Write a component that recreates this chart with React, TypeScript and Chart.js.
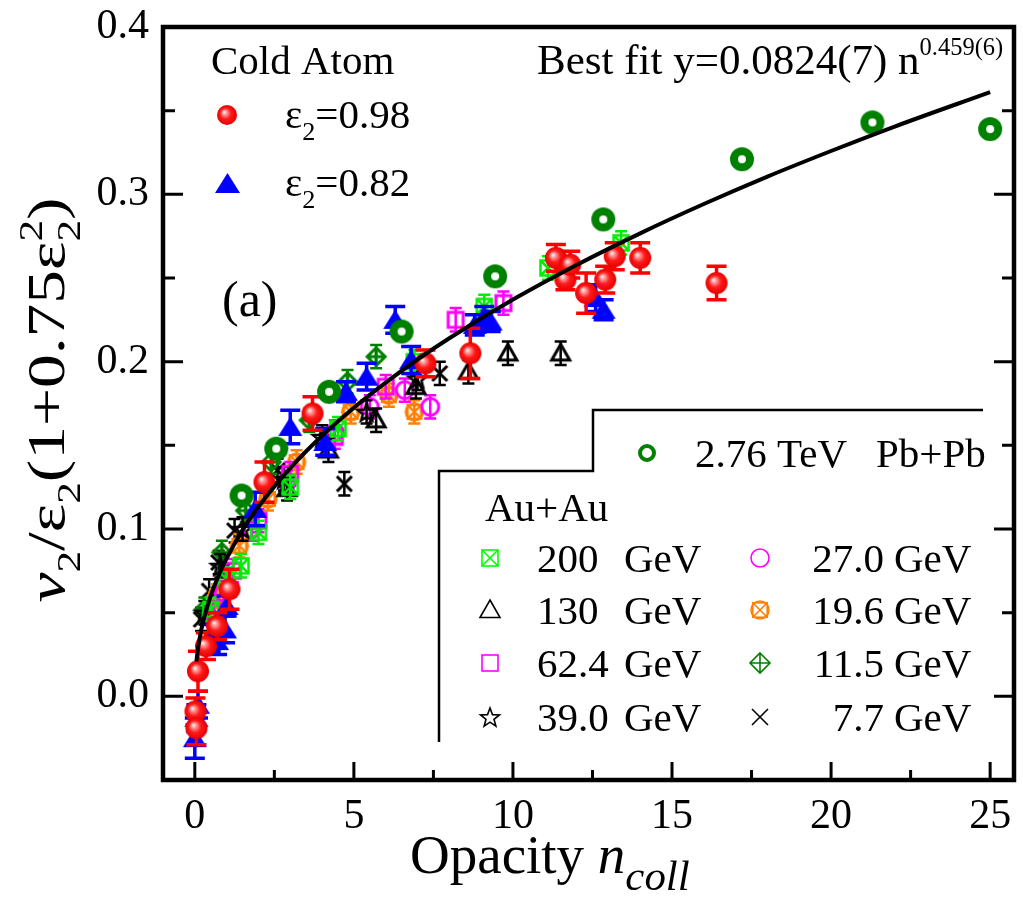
import React, { useEffect, useRef } from 'react';
import { Chart, registerables } from 'chart.js';

Chart.register(...registerables);

const SERIF = '"Liberation Serif", "Times New Roman", serif';

// ---- axes ----
const X_MIN = -1;
const X_MAX = 25.75;
const X_STEP = 5;
const X_MINOR = 2.5;
const Y_MIN = -0.05;
const Y_MAX = 0.4;
const Y_STEP = 0.1;
const Y_MINOR = 0.05;

// ---- best fit curve y = 0.0824 n^0.459 ----
const FIT_X = [0.05, 0.1, 0.2, 0.3, 0.5, 0.75, 1, 1.5, 2, 3, 4, 5, 6, 7, 8, 10, 12, 14, 16, 18, 20, 22, 25];
const FIT_Y = [0.0208, 0.0286, 0.0394, 0.0474, 0.06, 0.0722, 0.0824, 0.0993, 0.1133, 0.1364, 0.1557, 0.1725, 0.1875, 0.2013, 0.214, 0.2371, 0.2578, 0.2767, 0.2942, 0.3106, 0.3259, 0.3405, 0.3611];

// ---- Cold atom eps2 = 0.98 (red spheres) ----
const RED_X = [0.02, 0.05, 0.1, 0.35, 0.7, 1.09, 2.19, 3.7, 7.25, 8.66, 11.35, 11.65, 11.8, 12.3, 12.9, 13.2, 14.0, 16.4];
const RED_Y = [-0.009, -0.019, 0.015, 0.03, 0.042, 0.064, 0.128, 0.169, 0.199, 0.205, 0.262, 0.249, 0.258, 0.241, 0.249, 0.263, 0.262, 0.247];
const RED_ERR = [0.008, 0.01, 0.012, 0.008, 0.008, 0.012, 0.012, 0.01, 0.008, 0.015, 0.008, 0.006, 0.008, 0.012, 0.008, 0.008, 0.009, 0.01];

// ---- Cold atom eps2 = 0.82 (blue triangles) ----
const BLUE_X = [0.0, 0.05, 0.1, 0.5, 0.7, 0.95, 1.0, 1.9, 3.0, 4.1, 4.75, 5.4, 6.3, 6.8, 8.8, 9.1, 9.3, 12.6, 12.85];
const BLUE_Y = [-0.025, -0.013, -0.005, 0.035, 0.033, 0.04, 0.054, 0.112, 0.161, 0.152, 0.182, 0.191, 0.225, 0.201, 0.222, 0.227, 0.224, 0.238, 0.231];
const BLUE_ERR = [0.012, 0.008, 0.008, 0.008, 0.008, 0.008, 0.006, 0.01, 0.01, 0.008, 0.006, 0.008, 0.008, 0.008, 0.006, 0.006, 0.006, 0.008, 0.006];

// ---- 2.76 TeV Pb+Pb ----
const PB_X = [1.47, 2.56, 4.22, 6.5, 9.44, 12.84, 17.2, 21.3, 25.0];
const PB_Y = [0.12, 0.148, 0.182, 0.218, 0.251, 0.285, 0.321, 0.343, 0.339];
const PB_ERR = [0.004, 0.004, 0.004, 0.004, 0.004, 0.004, 0.004, 0.004, 0.004];

// ---- Au+Au ----
const AU200_X = [0.5, 1.0, 1.45, 2.0, 3.0, 4.5, 6.9, 9.1, 11.1, 13.4];
const AU200_Y = [0.052, 0.07, 0.078, 0.098, 0.125, 0.16, 0.2, 0.233, 0.256, 0.271];
const AU130_X = [2.9, 4.2, 5.7, 6.95, 8.6, 9.84, 11.5];
const AU130_Y = [0.124, 0.147, 0.165, 0.185, 0.194, 0.205, 0.205];
const AU62_X = [0.6, 1.2, 2.0, 3.0, 4.4, 6.0, 8.2, 9.7];
const AU62_Y = [0.05, 0.075, 0.105, 0.133, 0.155, 0.185, 0.225, 0.235];
const AU39_X = [0.3, 0.8, 1.5, 2.8, 4.0, 5.4, 7.0];
const AU39_Y = [0.05, 0.078, 0.1, 0.13, 0.155, 0.17, 0.19];
const AU27_X = [0.9, 1.8, 2.9, 4.4, 5.5, 6.6, 7.4];
const AU27_Y = [0.062, 0.1, 0.128, 0.158, 0.173, 0.183, 0.173];
const AU19_X = [0.7, 1.4, 2.3, 3.2, 4.9, 6.1, 6.9];
const AU19_Y = [0.06, 0.09, 0.118, 0.14, 0.17, 0.18, 0.17];
const AU11_X = [0.3, 0.85, 1.6, 2.4, 3.6, 4.8, 5.7];
const AU11_Y = [0.052, 0.086, 0.111, 0.14, 0.165, 0.188, 0.203];
const AU7_X = [0.2, 0.45, 0.75, 1.25, 2.6, 4.7, 7.7];
const AU7_Y = [0.046, 0.063, 0.08, 0.099, 0.135, 0.127, 0.193];
const AU_ERR = 0.007;

// ---- legend labels ----
const LEGEND_COLD_TITLE = 'Cold Atom';
const LEGEND_COLD = ['0.98', '0.82'];
const LEGEND_PB = ['2.76 TeV', 'Pb+Pb'];
const LEGEND_AU_TITLE = 'Au+Au';
const LEGEND_AU_LEFT = ['200', '130', '62.4', '39.0'];
const LEGEND_AU_RIGHT = ['27.0', '19.6', '11.5', '7.7'];

const COLORS = {
  red: '#ff0000',
  blue: '#0000ff',
  pb: '#008000',
  au200: '#00ee00',
  au130: '#000000',
  au62: '#ff00ff',
  au39: '#000000',
  au27: '#ff00ff',
  au19: '#ff8000',
  au11: '#008000',
  au7: '#000000',
};

function xy(xs: number[], ys: number[]) {
  return xs.map((x, i) => ({ x, y: ys[i] }));
}

function makeSprite(kind: string, color: string, size: number, lw: number): HTMLCanvasElement {
  const S = Math.ceil(size + lw * 2 + 4);
  const c = document.createElement('canvas');
  c.width = S;
  c.height = S;
  const g = c.getContext('2d')!;
  const m = S / 2;
  const r = size / 2;
  g.strokeStyle = color;
  g.fillStyle = color;
  g.lineWidth = lw;
  g.lineJoin = 'miter';
  switch (kind) {
    case 'sphere': {
      const gr = g.createRadialGradient(m - r * 0.3, m - r * 0.3, 0, m, m, r);
      gr.addColorStop(0, '#ffffff');
      gr.addColorStop(0.22, '#ff9a9a');
      gr.addColorStop(0.55, '#ff1a1a');
      gr.addColorStop(1, '#e60000');
      g.fillStyle = gr;
      g.beginPath();
      g.arc(m, m, r, 0, Math.PI * 2);
      g.fill();
      break;
    }
    case 'triFill':
      g.beginPath();
      g.moveTo(m, m - r * 0.85);
      g.lineTo(m + r, m + r * 0.75);
      g.lineTo(m - r, m + r * 0.75);
      g.closePath();
      g.fill();
      break;
    case 'triOpen':
      g.beginPath();
      g.moveTo(m, m - r);
      g.lineTo(m + r, m + r * 0.75);
      g.lineTo(m - r, m + r * 0.75);
      g.closePath();
      g.stroke();
      break;
    case 'ring':
      g.beginPath();
      g.arc(m, m, r - lw / 2, 0, Math.PI * 2);
      g.fillStyle = '#ffffff';
      g.fill();
      g.stroke();
      break;
    case 'squareX':
      g.strokeRect(m - r, m - r, 2 * r, 2 * r);
      g.beginPath();
      g.moveTo(m - r, m - r);
      g.lineTo(m + r, m + r);
      g.moveTo(m + r, m - r);
      g.lineTo(m - r, m + r);
      g.stroke();
      break;
    case 'square':
      g.strokeRect(m - r, m - r, 2 * r, 2 * r);
      break;
    case 'circle':
      g.beginPath();
      g.arc(m, m, r, 0, Math.PI * 2);
      g.stroke();
      break;
    case 'star': {
      g.beginPath();
      for (let k = 0; k < 10; k++) {
        const rr = k % 2 === 0 ? r : r * 0.42;
        const a = -Math.PI / 2 + (k * Math.PI) / 5;
        const px = m + rr * Math.cos(a);
        const py = m + rr * Math.sin(a) + r * 0.1;
        if (k === 0) g.moveTo(px, py);
        else g.lineTo(px, py);
      }
      g.closePath();
      g.stroke();
      break;
    }
    case 'circSqX': {
      const h = r * 0.8;
      g.beginPath();
      g.arc(m, m, r, 0, Math.PI * 2);
      g.stroke();
      g.strokeRect(m - h, m - h, 2 * h, 2 * h);
      g.beginPath();
      g.moveTo(m - h, m - h);
      g.lineTo(m + h, m + h);
      g.moveTo(m + h, m - h);
      g.lineTo(m - h, m + h);
      g.stroke();
      break;
    }
    case 'diamondPlus':
      g.beginPath();
      g.moveTo(m, m - r);
      g.lineTo(m + r, m);
      g.lineTo(m, m + r);
      g.lineTo(m - r, m);
      g.closePath();
      g.moveTo(m, m - r);
      g.lineTo(m, m + r);
      g.moveTo(m - r, m);
      g.lineTo(m + r, m);
      g.stroke();
      break;
    case 'cross':
      g.beginPath();
      g.moveTo(m - r, m - r);
      g.lineTo(m + r, m + r);
      g.moveTo(m + r, m - r);
      g.lineTo(m - r, m + r);
      g.stroke();
      break;
  }
  return c;
}

type Seg = { t: string; it?: boolean; sub?: boolean; sup?: boolean; stack?: string; scale?: number };

function drawSegs(ctx: CanvasRenderingContext2D, x: number, y: number, segs: Seg[], size: number, draw = true): number {
  let cx = x;
  for (const s of segs) {
    const small = s.sub || s.sup;
    const fs = small ? size * (s.scale ?? 0.64) : size;
    ctx.font = `${s.it ? 'italic ' : ''}${fs}px ${SERIF}`;
    const dy = s.sub ? size * 0.3 : s.sup ? -size * 0.45 : 0;
    const w = ctx.measureText(s.t).width;
    if (draw) ctx.fillText(s.t, cx, y + dy);
    let w2 = 0;
    if (s.stack) {
      w2 = ctx.measureText(s.stack).width;
      if (draw) ctx.fillText(s.stack, cx, y - size * 0.42);
    }
    cx += Math.max(w, w2);
  }
  return cx - x;
}

const errorBarPlugin = {
  id: 'errorBars',
  beforeDatasetDraw(chart: any, args: any) {
    const ds = chart.data.datasets[args.index];
    if (!ds.errors) return;
    const ctx = chart.ctx as CanvasRenderingContext2D;
    const ys = chart.scales.y;
    ctx.save();
    ctx.beginPath();
    ctx.rect(chart.chartArea.left, chart.chartArea.top, chart.chartArea.right - chart.chartArea.left, chart.chartArea.bottom - chart.chartArea.top);
    ctx.clip();
    ctx.strokeStyle = ds.errColor;
    ctx.lineWidth = ds.errWidth;
    args.meta.data.forEach((pt: any, i: number) => {
      const e = ds.errors[i];
      const v = ds.data[i].y;
      const top = ys.getPixelForValue(v + e);
      const bot = ys.getPixelForValue(v - e);
      const h = ds.capHalf;
      ctx.beginPath();
      ctx.moveTo(pt.x, top);
      ctx.lineTo(pt.x, bot);
      ctx.moveTo(pt.x - h, top);
      ctx.lineTo(pt.x + h, top);
      ctx.moveTo(pt.x - h, bot);
      ctx.lineTo(pt.x + h, bot);
      ctx.stroke();
    });
    ctx.restore();
  },
};

const framePlugin = {
  id: 'frame',
  afterDraw(chart: any) {
    const ctx = chart.ctx as CanvasRenderingContext2D;
    const a = chart.chartArea;
    const xs = chart.scales.x;
    const ys = chart.scales.y;
    ctx.save();
    ctx.strokeStyle = '#000';
    ctx.lineWidth = 3;
    ctx.beginPath();
    for (let v = Math.ceil(X_MIN / X_MINOR) * X_MINOR; v <= X_MAX + 1e-9; v += X_MINOR) {
      const major = Math.abs(v / X_STEP - Math.round(v / X_STEP)) < 1e-6;
      const px = xs.getPixelForValue(v);
      ctx.moveTo(px, a.bottom);
      ctx.lineTo(px, a.bottom - (major ? 18 : 10));
    }
    for (let v = Math.ceil(Y_MIN / Y_MINOR) * Y_MINOR; v <= Y_MAX + 1e-9; v += Y_MINOR) {
      const major = Math.abs(v / Y_STEP - Math.round(v / Y_STEP)) < 1e-6;
      const py = ys.getPixelForValue(v);
      const len = major ? 20 : 12;
      ctx.moveTo(a.left, py);
      ctx.lineTo(a.left + len, py);
      ctx.moveTo(a.right, py);
      ctx.lineTo(a.right - len, py);
    }
    ctx.stroke();
    ctx.lineWidth = 4.5;
    ctx.strokeRect(a.left, a.top, a.right - a.left, a.bottom - a.top);
    ctx.restore();
  },
};

function makeTextPlugin(spr: Record<string, HTMLCanvasElement>) {
  return {
    id: 'texts',
    afterDraw(chart: any) {
      const ctx = chart.ctx as CanvasRenderingContext2D;
      ctx.save();
      ctx.fillStyle = '#000';
      ctx.textBaseline = 'alphabetic';
      ctx.textAlign = 'left';
      const put = (c: HTMLCanvasElement, x: number, y: number) => ctx.drawImage(c, Math.round(x - c.width / 2), Math.round(y - c.height / 2));

      // Cold atom legend
      ctx.font = `41px ${SERIF}`;
      ctx.fillText(LEGEND_COLD_TITLE, 211, 74);
      put(spr.legRed, 227, 115);
      drawSegs(ctx, 285, 128, [{ t: 'ε' }, { t: '2', sub: true }, { t: '=' + LEGEND_COLD[0] }], 41);
      put(spr.legBlue, 227, 183);
      drawSegs(ctx, 285, 196, [{ t: 'ε' }, { t: '2', sub: true }, { t: '=' + LEGEND_COLD[1] }], 41);

      // best fit
      drawSegs(ctx, 537, 74, [{ t: 'Best fit y=0.0824(7) n' }, { t: '0.459(6)', sup: true, scale: 0.57 }], 43);

      // (a)
      ctx.font = `50px ${SERIF}`;
      ctx.fillText('(a)', 222, 316);

      // stepped legend box
      ctx.strokeStyle = '#000';
      ctx.lineWidth = 2.5;
      ctx.beginPath();
      ctx.moveTo(439, 742);
      ctx.lineTo(439, 471);
      ctx.lineTo(593, 471);
      ctx.lineTo(593, 410);
      ctx.lineTo(983, 410);
      ctx.stroke();

      ctx.font = `41px ${SERIF}`;
      put(spr.legPb, 647, 453);
      ctx.fillText(LEGEND_PB[0], 695, 467);
      ctx.fillText(LEGEND_PB[1], 876, 467);
      ctx.fillText(LEGEND_AU_TITLE, 485, 521);

      const rows = [558, 610, 663, 717];
      const leftSpr = [spr.leg200, spr.leg130, spr.leg62, spr.leg39];
      const rightSpr = [spr.leg27, spr.leg19, spr.leg11, spr.leg7];
      rows.forEach((ry, i) => {
        put(leftSpr[i], 490, ry);
        ctx.textAlign = 'left';
        ctx.fillText(LEGEND_AU_LEFT[i], 537, ry + 14);
        ctx.fillText('GeV', 624, ry + 14);
        put(rightSpr[i], 760, ry);
        ctx.textAlign = 'right';
        ctx.fillText(LEGEND_AU_RIGHT[i], 884, ry + 14);
        ctx.textAlign = 'left';
        ctx.fillText('GeV', 894, ry + 14);
      });

      // x axis title
      drawSegs(ctx, 410, 873, [{ t: 'Opacity ' }, { t: 'n', it: true }, { t: 'coll', it: true, sub: true, scale: 0.78 }], 55);

      // y axis title (rotated, slightly stretched along its baseline like the original)
      const ySegs: Seg[] = [
        { t: 'v', it: true },
        { t: '2', sub: true },
        { t: '/ε' },
        { t: '2', sub: true },
        { t: '(1+0.75ε' },
        { t: '2', sub: true, stack: '2' },
        { t: ')' },
      ];
      const size = 52;
      const w = drawSegs(ctx, 0, 0, ySegs, size, false);
      const stretch = 405 / w;
      ctx.translate(64, 400);
      ctx.rotate(-Math.PI / 2);
      ctx.scale(stretch, 1);
      drawSegs(ctx, -w / 2, 0, ySegs, size, true);
      ctx.restore();
    },
  };
}

export default function App() {
  const ref = useRef<HTMLCanvasElement>(null);
  useEffect(() => {
    document.body.style.margin = '0';
    const spr = {
      red: makeSprite('sphere', COLORS.red, 22, 1),
      blue: makeSprite('triFill', COLORS.blue, 24, 1),
      pb: makeSprite('ring', COLORS.pb, 24, 8),
      au200: makeSprite('squareX', COLORS.au200, 15, 2.5),
      au130: makeSprite('triOpen', COLORS.au130, 18, 3),
      au62: makeSprite('square', COLORS.au62, 15, 3),
      au39: makeSprite('star', COLORS.au39, 19, 2.5),
      au27: makeSprite('circle', COLORS.au27, 17, 3),
      au19: makeSprite('circSqX', COLORS.au19, 17, 2.5),
      au11: makeSprite('diamondPlus', COLORS.au11, 18, 3),
      au7: makeSprite('cross', COLORS.au7, 15, 3),
      legRed: makeSprite('sphere', COLORS.red, 20, 1),
      legBlue: makeSprite('triFill', COLORS.blue, 25, 1),
      legPb: makeSprite('ring', COLORS.pb, 18, 4),
      leg200: makeSprite('squareX', '#00ff00', 16, 1.6),
      leg130: makeSprite('triOpen', '#000000', 20, 1.6),
      leg62: makeSprite('square', COLORS.au62, 16, 1.6),
      leg39: makeSprite('star', '#000000', 20, 1.6),
      leg27: makeSprite('circle', COLORS.au27, 18, 1.6),
      leg19: makeSprite('circSqX', COLORS.au19, 18, 1.6),
      leg11: makeSprite('diamondPlus', COLORS.au11, 20, 1.6),
      leg7: makeSprite('cross', '#000000', 16, 1.6),
    };

    const pts = (label: string, xs: number[], ys: number[], errs: number[] | number, color: string, sprite: HTMLCanvasElement, order: number, capHalf = 6, errWidth = 2.5) => ({
      label,
      data: xy(xs, ys),
      pointStyle: sprite,
      pointRadius: 8,
      pointHoverRadius: 8,
      borderColor: color,
      backgroundColor: color,
      showLine: false,
      order,
      errors: Array.isArray(errs) ? errs : xs.map(() => errs),
      errColor: color,
      errWidth,
      capHalf,
    });

    const chart = new Chart(ref.current!, {
      type: 'scatter',
      data: {
        datasets: [
          {
            label: 'fit',
            data: xy(FIT_X, FIT_Y),
            showLine: true,
            borderColor: '#000',
            borderWidth: 4,
            pointRadius: 0,
            cubicInterpolationMode: 'monotone',
            order: 0,
          } as any,
          pts('2.76 TeV Pb+Pb', PB_X, PB_Y, PB_ERR, COLORS.pb, spr.pb, 1, 5, 2.5),
          pts('ε2=0.98', RED_X, RED_Y, RED_ERR, COLORS.red, spr.red, 2, 10, 3.5),
          pts('ε2=0.82', BLUE_X, BLUE_Y, BLUE_ERR, COLORS.blue, spr.blue, 3, 10, 3.5),
          pts('200 GeV', AU200_X, AU200_Y, AU_ERR, COLORS.au200, spr.au200, 4),
          pts('130 GeV', AU130_X, AU130_Y, AU_ERR, COLORS.au130, spr.au130, 5),
          pts('62.4 GeV', AU62_X, AU62_Y, AU_ERR, COLORS.au62, spr.au62, 6),
          pts('39.0 GeV', AU39_X, AU39_Y, AU_ERR, COLORS.au39, spr.au39, 7),
          pts('27.0 GeV', AU27_X, AU27_Y, AU_ERR, COLORS.au27, spr.au27, 8),
          pts('19.6 GeV', AU19_X, AU19_Y, AU_ERR, COLORS.au19, spr.au19, 9),
          pts('11.5 GeV', AU11_X, AU11_Y, AU_ERR, COLORS.au11, spr.au11, 10),
          pts('7.7 GeV', AU7_X, AU7_Y, AU_ERR, COLORS.au7, spr.au7, 11),
        ] as any,
      },
      options: {
        responsive: false,
        animation: false,
        layout: { padding: { top: 27, right: 4, left: 0, bottom: 0 } },
        plugins: {
          legend: { display: false },
          tooltip: { enabled: false },
        },
        scales: {
          x: {
            type: 'linear',
            min: X_MIN,
            max: X_MAX,
            grid: { display: false, drawTicks: false },
            border: { display: false },
            ticks: {
              stepSize: X_STEP,
              includeBounds: false,
              autoSkip: false,
              maxRotation: 0,
              padding: 12,
              color: '#000',
              font: { family: SERIF, size: 42 },
              callback: (v: any) => String(v),
            },
            afterFit: (s: any) => {
              s.height = 118;
              s.paddingLeft = 0;
              s.paddingRight = 0;
            },
          },
          y: {
            type: 'linear',
            min: Y_MIN,
            max: Y_MAX,
            grid: { display: false, drawTicks: false },
            border: { display: false },
            ticks: {
              stepSize: Y_STEP,
              includeBounds: false,
              padding: 14,
              color: '#000',
              font: { family: SERIF, size: 42 },
              callback: (v: any) => Number(v).toFixed(1),
            },
            afterFit: (s: any) => {
              s.width = 163;
              s.paddingTop = 0;
              s.paddingBottom = 0;
            },
          },
        },
      } as any,
      plugins: [errorBarPlugin, framePlugin, makeTextPlugin(spr)] as any,
    });
    return () => chart.destroy();
  }, []);
  return <canvas ref={ref} width={1023} height={898} style={{ display: 'block', width: 1023, height: 898 }} />;
}
